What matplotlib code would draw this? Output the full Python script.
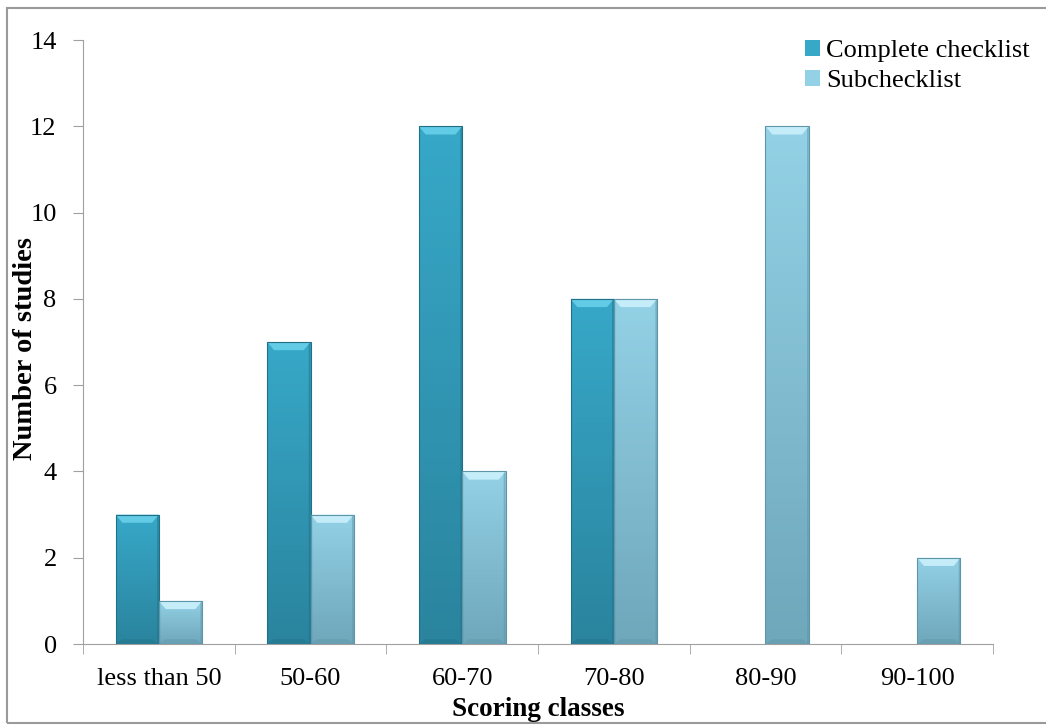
import matplotlib.pyplot as plt
from matplotlib.patches import Polygon, Rectangle
from matplotlib.colors import LinearSegmentedColormap
import numpy as np

plt.rcParams['font.family'] = ['Liberation Serif', 'DejaVu Serif']

classes = ["less than 50", "50-60", "60-70", "70-80", "80-90", "90-100"]
complete = [3, 7, 12, 8, 0, 0]
sub = [1, 3, 4, 8, 12, 2]

c_top, c_bot, c_light, c_edge = "#37a8c8", "#2a849e", "#62cbe6", "#226f86"
s_top, s_bot, s_light, s_edge = "#93d1e6", "#6fa7bb", "#c4edf9", "#5f95a8"

fig = plt.figure(figsize=(10.46, 7.25), dpi=100)
ax = fig.add_axes([0.0794, 0.1117, 0.8699, 0.8331])

x = np.arange(len(classes))
w = 1 / 3.5


def shade(ax, bars, top, bot, light, edge):
    # gradient body + light top bevel, roughly like excel's bevel style
    grad = np.linspace(0, 1, 64).reshape(-1, 1)
    cmap = LinearSegmentedColormap.from_list("g", [top, bot])
    for b in bars:
        h = b.get_height()
        if h <= 0:
            continue
        x0, x1 = b.get_x(), b.get_x() + b.get_width()
        im = ax.imshow(grad, cmap=cmap, aspect="auto", extent=(x0, x1, 0, h),
                       origin="upper", zorder=2.5)
        im.set_clip_path(b)
        dx, dy = 0.045, 0.19
        ax.add_patch(Polygon([(x0, h), (x1, h), (x1 - dx, h - dy), (x0 + dx, h - dy)],
                             closed=True, fc=light, ec="none", zorder=3))
        ax.add_patch(Polygon([(x1, 0), (x1, h), (x1 - 0.012, h - 0.05), (x1 - 0.012, 0)],
                             closed=True, fc=edge, ec="none", alpha=0.5, zorder=3))
        ax.add_patch(Polygon([(x0, 0), (x1, 0), (x1 - dx, dy * 0.6), (x0 + dx, dy * 0.6)],
                             closed=True, fc=edge, ec="none", alpha=0.4, zorder=3))
        ax.add_patch(Rectangle((x0, 0), x1 - x0, h, fill=False, ec=edge, lw=0.8, zorder=3.5))


b1 = ax.bar(x - w / 2, complete, w, color=c_top, linewidth=0,
            label="Complete checklist", zorder=2)
b2 = ax.bar(x + w / 2, sub, w, color=s_top, linewidth=0,
            label="Subchecklist", zorder=2)
shade(ax, b1, c_top, c_bot, c_light, c_edge)
shade(ax, b2, s_top, s_bot, s_light, s_edge)

ax.set_xlim(-0.5, len(classes) - 0.5)
ax.set_ylim(0, 14)
ax.set_yticks(range(0, 15, 2))
ax.set_xticks(x)
ax.set_xticklabels(classes)
ax.set_xticks(np.arange(-0.5, len(classes)), minor=True)
ax.tick_params(axis="x", which="major", length=0, labelsize=19, pad=17)
ax.tick_params(axis="x", which="minor", length=7, color="#a0a0a0", direction="out")
ax.tick_params(axis="y", length=7, color="#a0a0a0", labelsize=19, pad=12)

for s in ["top", "right"]:
    ax.spines[s].set_visible(False)
for s in ["left", "bottom"]:
    ax.spines[s].set_color("#a0a0a0")

ax.set_xlabel("Scoring classes", fontsize=19.5, fontweight="bold")
ax.set_ylabel("Number of studies", fontsize=20.5, fontweight="bold")
ax.xaxis.set_label_coords(538 / 1046, 1 - 697 / 725, transform=fig.transFigure)
ax.yaxis.set_label_coords(38 / 1046, 1 - 349 / 725, transform=fig.transFigure)

ax.legend(loc="upper left", bbox_to_anchor=(805 / 1046, 1 - 40 / 725),
          bbox_transform=fig.transFigure, frameon=False, fontsize=19,
          handlelength=0.55, handleheight=0.55, handletextpad=0.25, labelspacing=0.3,
          borderaxespad=0, borderpad=0)

fig.patches.append(Rectangle((7 / 1046, 2 / 725), 1, 1 - 10 / 725, transform=fig.transFigure,
                             fill=False, ec="#9a9a9a", lw=1.5))

fig.savefig("out.png", dpi=100)
